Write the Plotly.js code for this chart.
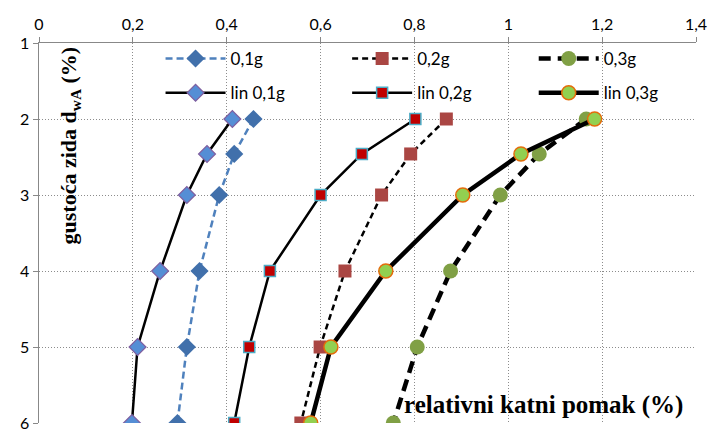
<!DOCTYPE html>
<html>
<head>
<meta charset="utf-8">
<script src="https://cdn.plot.ly/plotly-3.0.1.min.js"></script>
<style>html,body{margin:0;padding:0;background:#fff;}#chart{width:709px;height:437px;}</style>
</head>
<body>
<div id="chart"></div>
<script>
// wall density levels (y) and drift values (x)
const density = [2, 2.46, 3, 4, 5, 6];
const drift01 = [0.457, 0.416, 0.384, 0.342, 0.315, 0.295];
const drift02 = [0.868, 0.792, 0.730, 0.652, 0.599, 0.558];
const drift03 = [1.166, 1.066, 0.983, 0.877, 0.806, 0.755];
const lin01 = [0.412, 0.358, 0.315, 0.258, 0.210, 0.198];
const lin02 = [0.802, 0.688, 0.600, 0.492, 0.448, 0.416];
const lin03 = [1.184, 1.027, 0.903, 0.739, 0.622, 0.579];
const names = ['0,1g', '0,2g', '0,3g', 'lin 0,1g', 'lin 0,2g', 'lin 0,3g'];
const xTicks = [0, 0.2, 0.4, 0.6, 0.8, 1, 1.2, 1.4];
const yTicks = [1, 2, 3, 4, 5, 6];

const traces = [
  {x: drift01, y: density, name: names[0], legend: 'legend', mode: 'lines+markers',
   line: {color: '#4F81BD', width: 2.5, dash: '7px,4px'},
   marker: {symbol: 'diamond', size: 14, color: '#4170AB'}},
  {x: drift02, y: density, name: names[1], legend: 'legend2', mode: 'lines+markers',
   line: {color: '#000', width: 2.5, dash: '6px,4px'},
   marker: {symbol: 'square', size: 13, color: '#AA4643'}},
  {x: drift03, y: density, name: names[2], legend: 'legend3', mode: 'lines+markers',
   line: {color: '#000', width: 4.5, dash: '12px,7px'},
   marker: {symbol: 'circle', size: 15, color: '#80A045'}},
  {x: lin01, y: density, name: names[3], legend: 'legend4', mode: 'lines+markers',
   line: {color: '#000', width: 2.5},
   marker: {symbol: 'diamond', size: 13, color: '#558ED5', line: {color: '#7F5FA0', width: 1.2}}},
  {x: lin02, y: density, name: names[4], legend: 'legend5', mode: 'lines+markers',
   line: {color: '#000', width: 2.5},
   marker: {symbol: 'square', size: 11, color: '#C00000', line: {color: '#4BACC6', width: 1.5}}},
  {x: lin03, y: density, name: names[5], legend: 'legend6', mode: 'lines+markers',
   line: {color: '#000', width: 4.5},
   marker: {symbol: 'circle', size: 14, color: '#92D050', line: {color: '#E46C0A', width: 1.5}}}
];

function legendAt(x, y) {
  return {
    x: x, y: y, orientation: 'v', xanchor: 'left', yanchor: 'middle',
    bgcolor: 'rgba(0,0,0,0)', borderwidth: 0, itemwidth: 60,
    font: {family: 'Lato, sans-serif', size: 17, color: '#000'}
  };
}
const colX = [0.185, 0.469, 0.753];
const rowY = [0.958, 0.868];

const layout = {
  width: 709, height: 437,
  margin: {l: 39, r: 13, t: 43, b: 14},
  paper_bgcolor: '#fff', plot_bgcolor: '#fff',
  separators: ', ',
  font: {family: 'Lato, sans-serif', size: 16, color: '#000'},
  showlegend: true,
  xaxis: {
    side: 'top', range: [0, 1.4], tickvals: xTicks, ticks: 'outside', ticklen: 5,
    tickcolor: '#888', showline: true, linecolor: '#888', linewidth: 1.5,
    showgrid: true, gridcolor: '#8c8c8c', griddash: '1px,2px', gridwidth: 1, zeroline: false,
    tickfont: {family: 'Lato, sans-serif', size: 16, color: '#000'}
  },
  yaxis: {
    range: [6, 1], tickvals: yTicks, ticks: 'outside', ticklen: 5,
    tickcolor: '#888', showline: true, linecolor: '#888', linewidth: 1.5,
    showgrid: true, gridcolor: '#8c8c8c', griddash: '1px,2px', gridwidth: 1, zeroline: false,
    tickfont: {family: 'Lato, sans-serif', size: 16, color: '#000'}
  },
  legend: legendAt(colX[0], rowY[0]),
  legend2: legendAt(colX[1], rowY[0]),
  legend3: legendAt(colX[2], rowY[0]),
  legend4: legendAt(colX[0], rowY[1]),
  legend5: legendAt(colX[1], rowY[1]),
  legend6: legendAt(colX[2], rowY[1]),
  annotations: [
    {text: '<b>gustoća zida d<sub>wA</sub> (%)</b>', xref: 'paper', yref: 'paper',
     x: 0.047, y: 0.73, xanchor: 'center', yanchor: 'middle', textangle: -90, showarrow: false,
     font: {family: 'Liberation Serif, Times New Roman, serif', size: 22, color: '#000'}},
    {text: '<b>relativni katni pomak (%)</b>', xref: 'paper', yref: 'paper',
     x: 0.552, y: 0.047, xanchor: 'left', yanchor: 'middle', showarrow: false,
     font: {family: 'Liberation Serif, Times New Roman, serif', size: 25, color: '#000'}}
  ]
};

Plotly.newPlot('chart', traces, layout, {displayModeBar: false, staticPlot: true});
</script>
</body>
</html>
